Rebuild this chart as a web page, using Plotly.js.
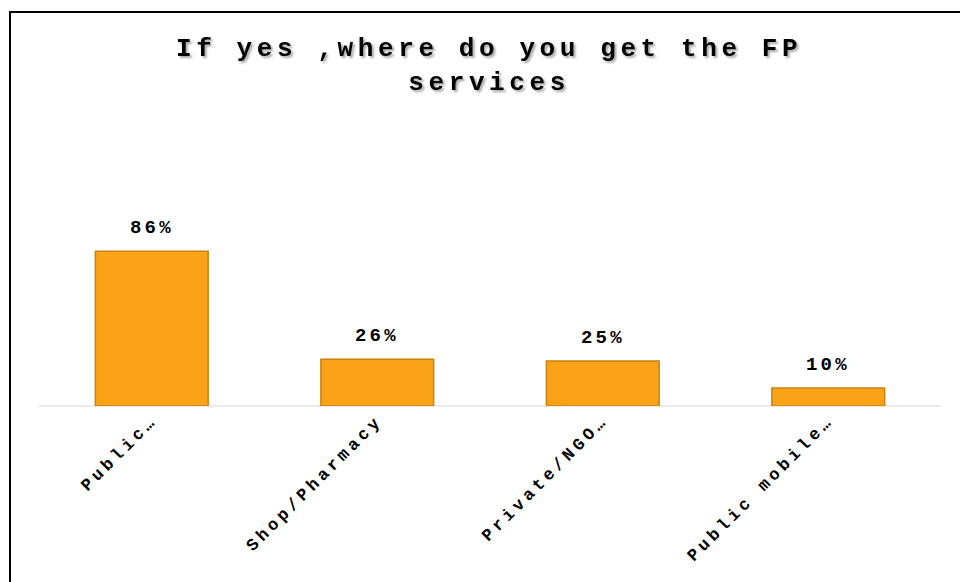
<!DOCTYPE html>
<html>
<head>
<meta charset="utf-8">
<script src="https://cdn.plot.ly/plotly-3.0.1.min.js"></script>
<style>
  html, body { margin: 0; padding: 0; background: #fff; }
  #wrap { position: relative; width: 960px; height: 582px; overflow: hidden; }
  #chart { width: 960px; height: 582px; }
  #frame { position: absolute; left: 9px; top: 11px; width: 1000px; height: 700px;
           border-left: 2px solid #000; border-top: 2px solid #000; pointer-events: none; }
  .gtitle { letter-spacing: 4.6px; filter: drop-shadow(2px 2px 1px rgba(0,0,0,0.35)); }
  .xtick text { letter-spacing: 4.0px; }
  .annotation-text { letter-spacing: 3.2px; }
</style>
</head>
<body>
<div id="wrap">
  <div id="chart"></div>
  <div id="frame"></div>
</div>
<script>
const categories = ["Public…", "Shop/Pharmacy", "Private/NGO…", "Public mobile…"];
const values = [86, 26, 25, 10];
const valueLabels = ["86%", "26%", "25%", "10%"];
const chartTitle = "If yes ,where do you get the FP<br>services";

const FONT = "'Courier New', Courier, 'Nimbus Mono PS', FreeMono, 'Liberation Mono', monospace";

const trace = {
  type: "bar",
  x: categories,
  y: values,
  marker: { color: "#FBA318", line: { color: "#C7820F", width: 1.5 } },
  hoverinfo: "none"
};

const annotations = categories.map((c, i) => ({
  x: c,
  y: values[i],
  xref: "x",
  yref: "y",
  text: valueLabels[i],
  showarrow: false,
  xanchor: "center",
  yanchor: "bottom",
  yshift: 10,
  font: { family: FONT, size: 19, color: "#000", weight: "bold" }
}));

const layout = {
  width: 960,
  height: 582,
  paper_bgcolor: "#fff",
  plot_bgcolor: "#fff",
  margin: { l: 39, r: 19, t: 226, b: 176 },
  bargap: 0.5,
  showlegend: false,
  annotations: annotations,
  title: {
    text: chartTitle,
    x: 0.499,
    xref: "paper",
    xanchor: "center",
    y: 0.903,
    yref: "container",
    yanchor: "top",
    font: { family: FONT, size: 26, color: "#000", weight: "bold" }
  },
  xaxis: {
    type: "category",
    tickangle: -45,
    showgrid: false,
    showline: false,
    ticks: "",
    tickfont: { family: FONT, size: 17, color: "#000", weight: "bold" },
    automargin: false
  },
  yaxis: {
    range: [0, 100],
    showticklabels: false,
    showgrid: false,
    zeroline: true,
    zerolinecolor: "#EBEBEB",
    zerolinewidth: 2,
    ticks: ""
  }
};

Plotly.newPlot("chart", [trace], layout, { displayModeBar: false, staticPlot: true });
</script>
</body>
</html>
